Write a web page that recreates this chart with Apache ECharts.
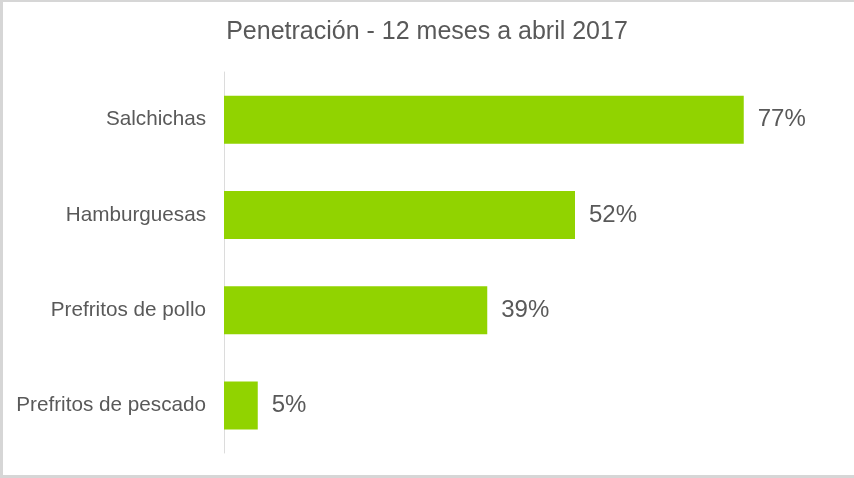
<!DOCTYPE html>
<html>
<head>
<meta charset="UTF-8">
<title>Penetración</title>
<script type="text/javascript" src="https://cdn.jsdelivr.net/npm/echarts@6/dist/echarts.min.js"></script>
<style>
  html, body { margin: 0; padding: 0; background: #fff; }
  #main { position: absolute; left: 0; top: 0; width: 854px; height: 478px; }
  #frame { position: absolute; left: 0; top: 0; width: 854px; height: 478px; box-sizing: border-box;
           border-top: 2px solid #d6d6d6; border-left: 3px solid #d6d6d6; border-bottom: 3px solid #d6d6d6;
           pointer-events: none; }
</style>
</head>
<body>
<div id="main"></div>
<div id="frame"></div>
<script type="text/javascript">
  // datos
  var categorias = ['Salchichas', 'Hamburguesas', 'Prefritos de pollo', 'Prefritos de pescado'];
  var penetracion = [77, 52, 39, 5];
  var titulo = 'Penetración - 12 meses a abril 2017';

  var textColor = '#595959';
  var barColor = '#91d300';

  var myChart = echarts.init(document.getElementById('main'));

  var option = {
    animation: false,
    title: {
      text: titulo,
      left: 'center',
      top: 20,
      padding: 0,
      textStyle: {
        fontFamily: 'Liberation Sans, Arial, sans-serif',
        fontSize: 25,
        fontWeight: 'normal',
        color: textColor
      }
    },
    grid: {
      left: 224,
      top: 72,
      width: 607.5,
      height: 381
    },
    xAxis: {
      type: 'value',
      min: 0,
      max: 90,
      show: false,
      splitLine: { show: false }
    },
    yAxis: {
      type: 'category',
      inverse: true,
      data: categorias,
      axisLine: { show: true, lineStyle: { color: '#dcdcdc', width: 1 } },
      axisTick: { show: false },
      axisLabel: {
        margin: 18,
        fontFamily: 'Liberation Sans, Arial, sans-serif',
        fontSize: 20.7,
        color: textColor,
        padding: [4, 0, 0, 0]
      }
    },
    series: [{
      type: 'bar',
      data: penetracion,
      barWidth: 48,
      itemStyle: { color: barColor },
      label: {
        show: true,
        position: 'right',
        distance: 14,
        formatter: '{c}%',
        fontFamily: 'Liberation Sans, Arial, sans-serif',
        fontSize: 24,
        color: textColor
      }
    }]
  };

  myChart.setOption(option);
</script>
</body>
</html>
